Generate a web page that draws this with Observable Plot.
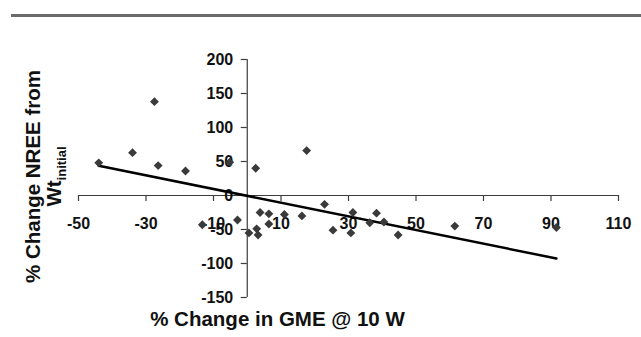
<!DOCTYPE html>
<html><head><meta charset="utf-8">
<script src="https://cdn.jsdelivr.net/npm/d3@7"></script>
<script src="https://cdn.jsdelivr.net/npm/@observablehq/plot@0.6"></script>
<style>
html,body{margin:0;padding:0;background:#fff;}
#wrap{position:relative;width:641px;height:337px;}
#topbar{position:absolute;left:11px;right:0;top:14px;height:3px;background:#6b6b6b;}
</style></head><body><div id="wrap"><div id="topbar"></div></div>
<script>
// Data
const gmeChange  = [-44, -34, -27.5, -26.4, -18.3, -5.2, 2.5, 17.6, -13.3, -2.9, 0.5, 2.8, 3.2, 3.8, 6.4, 6.4, 11, 16.2, 22.9, 25.4, 31.3, 30.7, 36.3, 38.3, 40.5, 44.7, 61.5, 91.6];
const nreeChange = [48, 63, 138, 44, 36, 49, 40, 66, -43, -36, -55, -49, -58, -25, -27, -42, -28, -30, -13, -51, -25, -55, -40, -26, -39, -58, -45, -47];
const trendX = [-44, 91.6];
const trendY = [43.7, -92.6];
const xTicks = [-50, -30, -10, 10, 30, 50, 70, 90, 110];
const yTicks = [200, 150, 100, 50, 0, -50, -100, -150];
const xDomain = [-50, 110];
const yDomain = [-150, 200];
const xTitle = "% Change in GME @ 10 W";
const yTitle1 = "% Change NREE from";
const yTitle2 = "Wt";
const yTitle2Sub = "initial";

const points = gmeChange.map((x, i) => ({x, y: nreeChange[i]}));
const trend = trendX.map((x, i) => ({x, y: trendY[i]}));

const font = "'Liberation Sans', Arial, Helvetica, sans-serif";
const axisColor = "#3c3c3c";
const chart = Plot.plot({
  width: 641, height: 337,
  marginLeft: 78, marginRight: 23, marginTop: 59, marginBottom: 40,
  x: {domain: xDomain, axis: null},
  y: {domain: yDomain, axis: null},
  style: {fontFamily: font, background: "transparent", overflow: "visible"},
  marks: [
    Plot.ruleY([0], {stroke: axisColor, strokeWidth: 1.2}),
    Plot.ruleX([0], {stroke: axisColor, strokeWidth: 1.2}),
    Plot.ruleX(xTicks, {x: d => d, y1: () => 0, y2: () => 0, insetBottom: -6, stroke: axisColor, strokeWidth: 1.2}),
    Plot.ruleY(yTicks, {y: d => d, x1: () => 0, x2: () => 0, insetLeft: -6, stroke: axisColor, strokeWidth: 1.2}),
    Plot.text(xTicks, {x: d => d, y: () => 0, dy: 28, text: d => String(d), fontSize: 16, fontWeight: "bold", fill: "#111"}),
    Plot.text(yTicks, {x: () => 0, y: d => d, dx: -14, textAnchor: "end", text: d => String(d), fontSize: 16, fontWeight: "bold", fill: "#111"}),
    Plot.line(trend, {x: "x", y: "y", stroke: "#000", strokeWidth: 2.5}),
    Plot.dot(points, {x: "x", y: "y", symbol: "diamond2", r: 4, fill: "#3a3a3a", stroke: "none"}),
    Plot.text([xTitle], {frameAnchor: "bottom", textAnchor: "middle", dx: -71, dy: 28, fontSize: 20.5, fontWeight: "bold", fill: "#111"}),
    Plot.text([yTitle1], {frameAnchor: "left", textAnchor: "middle", rotate: -90, dx: -45, dy: -2, fontSize: 20.5, fontWeight: "bold", fill: "#111"}),
    Plot.text([yTitle2], {frameAnchor: "left", textAnchor: "middle", rotate: -90, dx: -24, dy: -2, fontSize: 20.5, fontWeight: "bold", fill: "#111", className: "ysub"})
  ]
});
d3.select(chart).select("g.ysub text").append("tspan")
  .attr("dy", "0.35em").attr("font-size", 13).text(yTitle2Sub);
document.getElementById("wrap").appendChild(chart);
chart.style.position = "absolute";
chart.style.left = "0"; chart.style.top = "0";
</script></body></html>
